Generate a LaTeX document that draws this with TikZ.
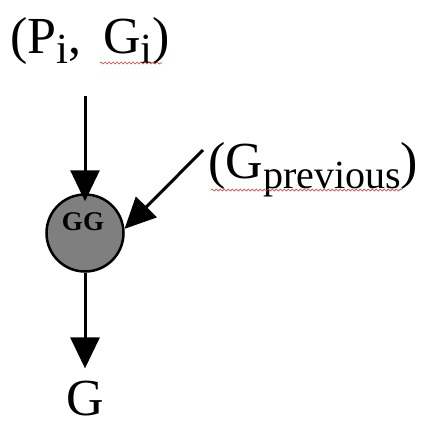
\documentclass[tikz,border=0pt]{standalone}
\usepackage{fontspec}
\setmainfont{Liberation Serif}
\usetikzlibrary{arrows.meta,decorations.pathmorphing}
\newcommand{\bigtxt}{\fontsize{52}{62}\selectfont}
\newcommand{\subtxt}[1]{\raisebox{-10pt}{\fontsize{43}{50}\selectfont #1}}
\newcommand{\subtxtb}[1]{\raisebox{-10pt}{\fontsize{40}{48}\selectfont #1}}
\tikzset{
  lbl/.style={inner sep=0pt, anchor=base west, font=\bigtxt},
  arr/.style={line width=3pt, -{Triangle[length=31pt,width=29pt]}},
  gnode/.style={circle, draw=black, line width=2.5pt, fill={rgb,255:red,127;green,127;blue,127}, minimum size=77pt, inner sep=0pt},
  spell/.style={draw={rgb,255:red,210;green,60;blue,60}, line width=0.7pt, decorate, decoration={snake, amplitude=1pt, segment length=4pt}}
}
\begin{document}
\begin{tikzpicture}[x=1pt,y=-1pt]
\useasboundingbox (0,0) rectangle (426,426);
\node[lbl] (pg) at (10,53) {(P\subtxt{i}, \,G\subtxt{i})};
\node[lbl] (gp) at (208,178) {(G\subtxtb{previous})};
\node[lbl] (g) at (66,415) {G};
\node[gnode] (gg) at (85,233) {};
\node[inner sep=0pt, font=\fontsize{27}{30}\selectfont\bfseries] (gglbl) at (83,222) {GG};
\coordinate (ps) at (203,150);
\draw[arr, shorten <=32pt, shorten >=-8pt] (gg |- pg.south) -- (gg);
\draw[arr] (ps) -- (gg.6);
\draw[arr, shorten >=12pt] (gg.south) -- (gg.south |- g.north);
\draw[spell] (100,63) -- (162,63);
\draw[spell] (211,190) -- (402,190);
\end{tikzpicture}
\end{document}
